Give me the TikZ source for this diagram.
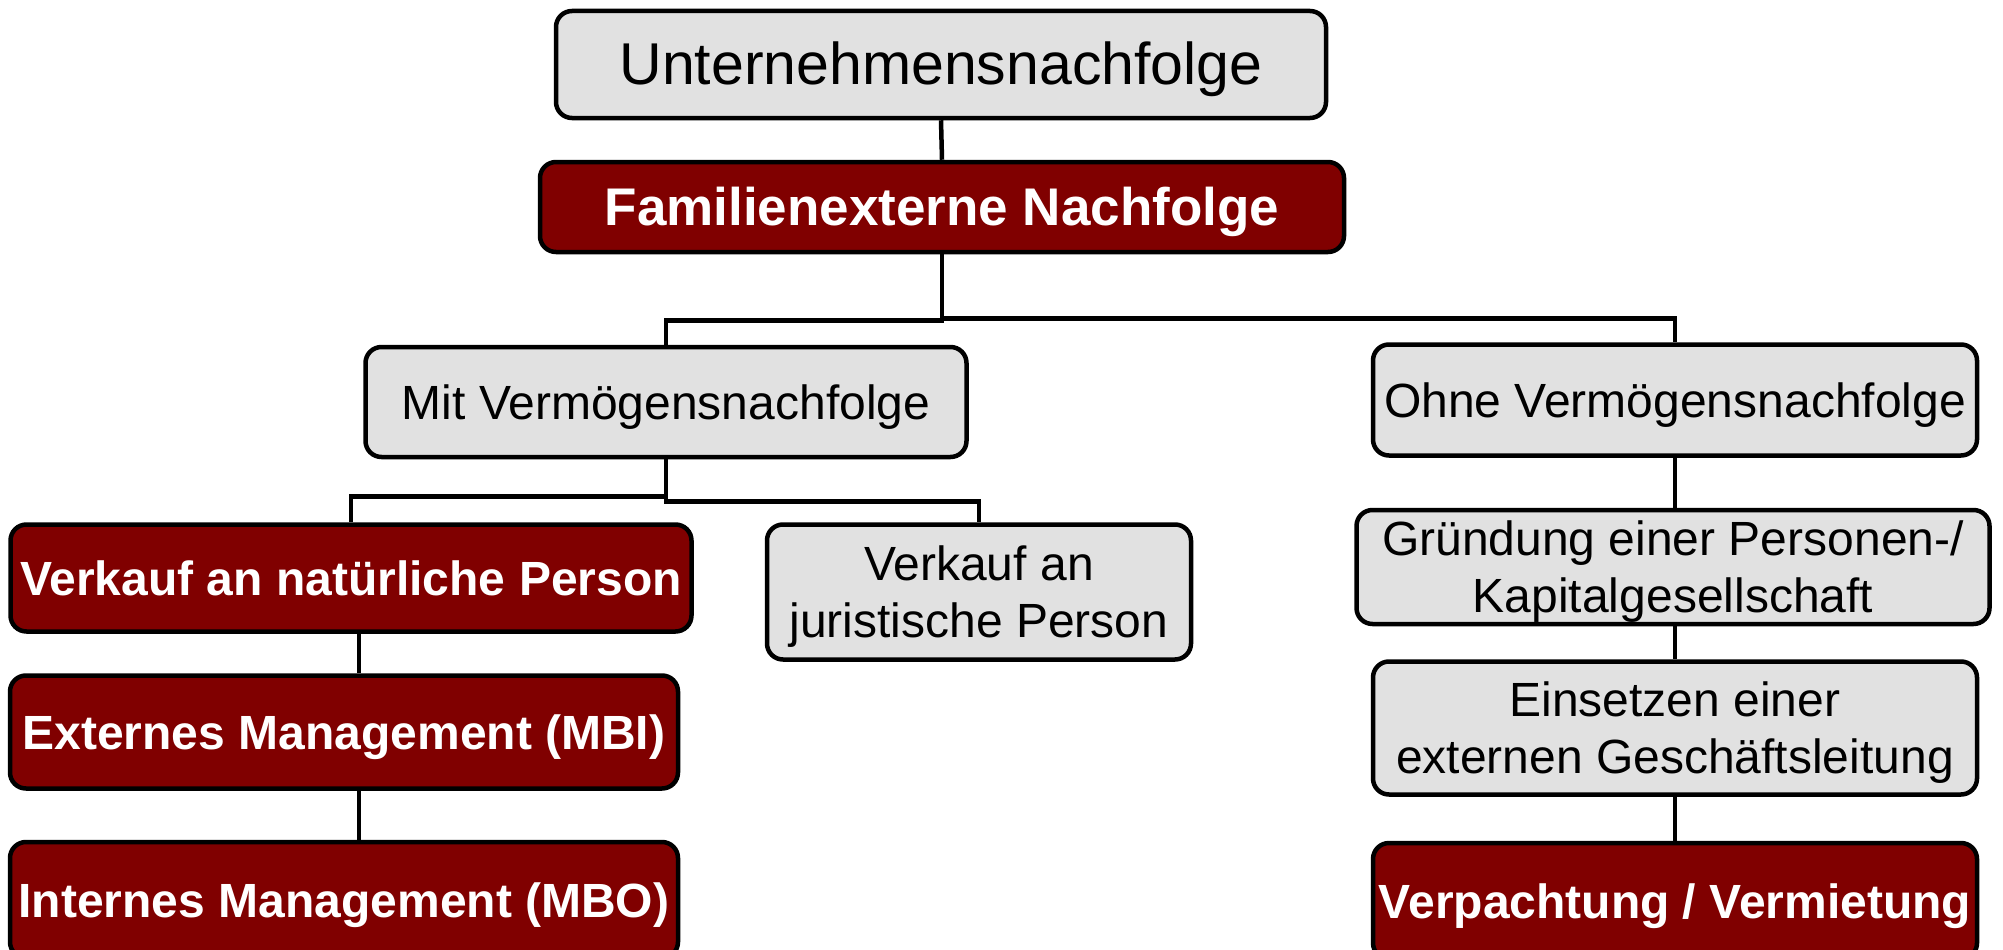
\documentclass[tikz,border=0pt]{standalone}
\usepackage{fontspec}
\setmainfont{Liberation Sans}
\definecolor{boxred}{RGB}{128,0,0}
\definecolor{boxgray}{RGB}{225,225,225}
\newcommand{\boxtext}[1]{\raisebox{-6pt}[\height][\depth]{\begin{tabular}{@{}c@{}}#1\end{tabular}}}
\begin{document}
\begin{tikzpicture}[x=1pt,y=-1pt,
  base/.style={draw=black, line width=4.5pt, rounded corners=16pt, inner sep=0pt, align=center},
  graybox/.style={base, fill=boxgray, text=black, font=\fontsize{48}{57}\selectfont},
  redbox/.style={base, fill=boxred, text=white, font=\fontsize{48}{57}\selectfont\bfseries},
  conn/.style={draw=black, line width=4.5pt}]
\useasboundingbox (0,0) rectangle (2003,950);
\fill[white] (0,0) rectangle (2003,950);

\node[graybox, minimum width=770pt, minimum height=107pt, font=\fontsize{59}{70}\selectfont] (top) at (941,64.5) {\boxtext{Unternehmensnachfolge}};
\node[redbox, minimum width=804pt, minimum height=90pt, font=\fontsize{53}{63}\selectfont\bfseries] (fam) at (942,207) {\boxtext{Familienexterne Nachfolge}};

\node[graybox, minimum width=601pt, minimum height=110pt] (mit) at (666,402) {\boxtext{Mit Vermögensnachfolge}};
\node[graybox, minimum width=604pt, minimum height=111pt] (ohne) at (1675,400) {\boxtext{Ohne Vermögensnachfolge}};

\node[redbox, minimum width=681pt, minimum height=107pt] (vnat) at (351,578) {\boxtext{Verkauf an natürliche Person}};
\node[graybox, minimum width=424pt, minimum height=135pt] (vjur) at (979,592) {\boxtext{Verkauf an\\juristische Person}};
\node[redbox, minimum width=668pt, minimum height=113pt] (mbi) at (344,732) {\boxtext{Externes Management (MBI)}};
\node[redbox, minimum width=668pt, minimum height=116pt] (mbo) at (344,900) {\boxtext{Internes Management (MBO)}};

\node[graybox, minimum width=633pt, minimum height=112pt] (gruend) at (1673,567) {\boxtext{Gründung einer Personen-/\\Kapitalgesellschaft}};
\node[graybox, minimum width=604pt, minimum height=133pt] (einsetz) at (1675,728) {\boxtext{Einsetzen einer\\externen Geschäftsleitung}};
\node[redbox, minimum width=604pt, minimum height=116pt] (verp) at (1675,901) {\boxtext{Verpachtung / Vermietung}};

\coordinate (lx) at (359,0);

\draw[conn] (top.south) -- (fam.north);
\draw[conn] (fam.south) -- ++(0,66) -| (mit.north);
\draw[conn] (fam.south) -- ++(0,64) -| (ohne.north);
\draw[conn] (mit.south) -- ++(0,37) -| (vnat.north);
\draw[conn] (mit.south) -- ++(0,42) -| (vjur.north);
\draw[conn] (vnat.south -| lx) -- (mbi.north -| lx);
\draw[conn] (mbi.south -| lx) -- (mbo.north -| lx);
\draw[conn] (ohne.south) -- (gruend.north -| ohne.south);
\draw[conn] (gruend.south -| ohne.south) -- (einsetz.north);
\draw[conn] (einsetz.south) -- (verp.north);
\end{tikzpicture}
\end{document}
